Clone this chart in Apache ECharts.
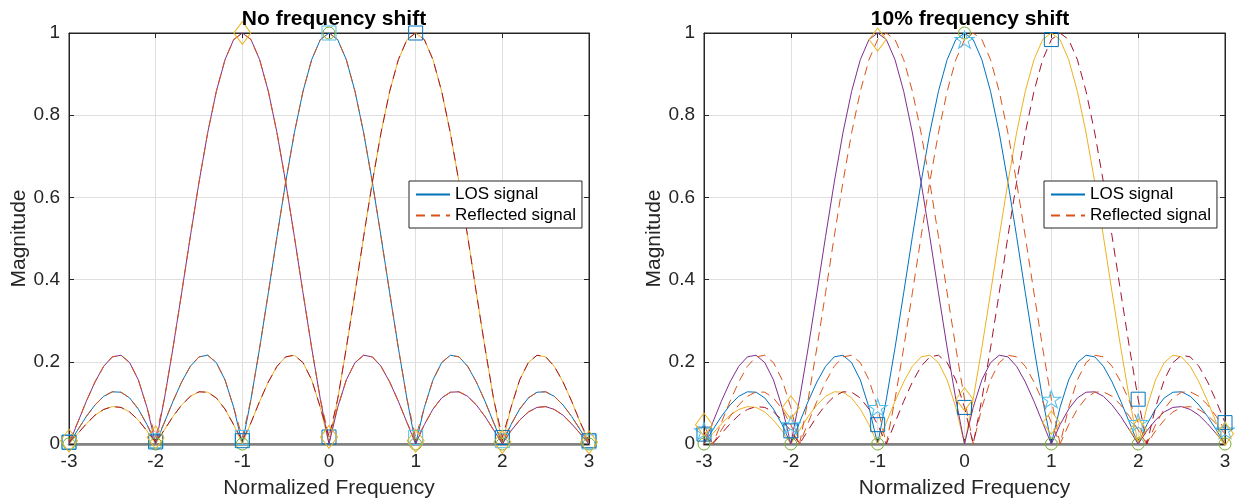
<!DOCTYPE html>
<html>
<head>
<meta charset="utf-8">
<script src="https://cdn.jsdelivr.net/npm/echarts@6/dist/echarts.min.js"></script>
<style>
html,body{margin:0;padding:0;background:#fff;}
#chart{width:1235px;height:504px;}
</style>
</head>
<body>
<div id="chart"></div>
<script>
// ---------- data ----------
const panelTitles = ['No frequency shift', '10% frequency shift'];
const xTicks = [-3, -2, -1, 0, 1, 2, 3];
const freq = [-3.0,-2.9,-2.8,-2.7,-2.6,-2.5,-2.4,-2.3,-2.2,-2.1,-2.0,-1.9,-1.8,-1.7,-1.6,-1.5,-1.4,-1.3,-1.2,-1.1,
  -1.0,-0.9,-0.8,-0.7,-0.6,-0.5,-0.4,-0.3,-0.2,-0.1,0.0,0.1,0.2,0.3,0.4,0.5,0.6,0.7,0.8,0.9,
  1.0,1.1,1.2,1.3,1.4,1.5,1.6,1.7,1.8,1.9,2.0,2.1,2.2,2.3,2.4,2.5,2.6,2.7,2.8,2.9,3.0];
const sampleFreq = [-3, -2, -1, 0, 1, 2, 3];

// LOS signals (same in both panels)
const losK0 = [0,.034,.067,.095,.116,.127,.126,.112,.085,.047,
  0,.052,.104,.151,.189,.212,.216,.198,.156,.089,
  0,.109,.234,.368,.505,.637,.757,.858,.935,.984,
  1,
  .984,.935,.858,.757,.637,.505,.368,.234,.109,0,
  .089,.156,.198,.216,.212,.189,.151,.104,.052,0,
  .047,.085,.112,.126,.127,.116,.095,.067,.034,0];
const losKm1 = [0,.052,.104,.151,.189,.212,.216,.198,.156,.089,0,.109,.234,.368,.505,.637,.757,.858,.935,.984,
  1,
  .984,.935,.858,.757,.637,.505,.368,.234,.109,0,
  .089,.156,.198,.216,.212,.189,.151,.104,.052,0,
  .047,.085,.112,.126,.127,.116,.095,.067,.034,0,
  .032,.058,.078,.089,.091,.084,.070,.049,.025,0];
const losK1 = [0,.025,.049,.070,.084,.091,.089,.078,.058,.032,
  0,.034,.067,.095,.116,.127,.126,.112,.085,.047,
  0,.052,.104,.151,.189,.212,.216,.198,.156,.089,
  0,.109,.234,.368,.505,.637,.757,.858,.935,.984,
  1,
  .984,.935,.858,.757,.637,.505,.368,.234,.109,
  0,.089,.156,.198,.216,.212,.189,.151,.104,.052,0];

// Reflected signals, left panel (no shift)
const leftReflK0 = [.005,.034,.067,.095,.116,.127,.126,.112,.085,.047,
  .008,.052,.104,.151,.189,.212,.216,.198,.156,.089,
  .016,.109,.234,.368,.505,.637,.757,.858,.935,.984,
  1,
  .984,.935,.858,.757,.637,.505,.368,.234,.109,.016,
  .089,.156,.198,.216,.212,.189,.151,.104,.052,.008,
  .047,.085,.112,.126,.127,.116,.095,.067,.034,.005];
const leftReflKm1 = [.008,.052,.104,.151,.189,.212,.216,.198,.156,.089,.016,.109,.234,.368,.505,.637,.757,.858,.935,.984,
  1,
  .984,.935,.858,.757,.637,.505,.368,.234,.109,.017,
  .089,.156,.198,.216,.212,.189,.151,.104,.052,.008,
  .047,.085,.112,.126,.127,.116,.095,.067,.034,.005,
  .032,.058,.078,.089,.091,.084,.070,.049,.025,.004];
const leftReflK1 = [.004,.025,.049,.070,.084,.091,.089,.078,.058,.032,
  .005,.034,.067,.095,.116,.127,.126,.112,.085,.047,
  .008,.052,.104,.151,.189,.212,.216,.198,.156,.089,
  .017,.109,.234,.368,.505,.637,.757,.858,.935,.984,
  1,
  .984,.935,.858,.757,.637,.505,.368,.234,.109,
  .016,.089,.156,.198,.216,.212,.189,.151,.104,.052,.008];

// Reflected signals, right panel (10% shift)
const rightReflK0 = [.032,0,.034,.067,.095,.116,.127,.126,.112,.085,.047,
  0,.052,.104,.151,.189,.212,.216,.198,.156,.089,
  0,.109,.234,.368,.505,.637,.757,.858,.935,.984,
  1,
  .984,.935,.858,.757,.637,.505,.368,.234,.109,0,
  .089,.156,.198,.216,.212,.189,.151,.104,.052,0,
  .047,.085,.112,.126,.127,.116,.095,.067,.034];
const rightReflKm1 = [.047,
  0,.052,.104,.151,.189,.212,.216,.198,.156,.089,
  0,.109,.234,.368,.505,.637,.757,.858,.935,.984,
  1,
  .984,.935,.858,.757,.637,.505,.368,.234,.109,0,
  .089,.156,.198,.216,.212,.189,.151,.104,.052,0,
  .047,.085,.112,.126,.127,.116,.095,.067,.034,0,
  .032,.058,.078,.089,.091,.084,.070,.049,.025];
const rightReflK1 = [.024,
  0,.025,.049,.070,.084,.091,.089,.078,.058,.032,
  0,.034,.067,.095,.116,.127,.126,.112,.085,.047,
  0,.052,.104,.151,.189,.212,.216,.198,.156,.089,
  0,.109,.234,.368,.505,.637,.757,.858,.935,.984,
  1,
  .984,.935,.858,.757,.637,.505,.368,.234,.109,
  0,.089,.156,.198,.216,.212,.189,.151,.104,.052];

// Sampled values at the integer frequencies (markers)
const leftLosSamples = [0, 0, 0, 1, 0, 0, 0];
const leftReflK0Samples = [.005, .008, .016, 1, .016, .008, .005];
const leftReflKm1Samples = [.008, .016, 1, .017, .008, .005, .004];
const leftReflK1Samples = [.004, .005, .008, .017, 1, .016, .008];
const rightLosSamples = [0, 0, 0, 1, 0, 0, 0];
const rightReflK0Samples = [.032, .047, .089, .984, .109, .052, .034];
const rightReflKm1Samples = [.047, .089, .984, .109, .052, .034, .025];
const rightReflK1Samples = [.024, .032, .047, .089, .984, .109, .052];

// ---------- styling ----------
const FONT = '"Liberation Sans", Arial, Helvetica, sans-serif';
const C = {blue:'#0072BD', orange:'#D95319', yellow:'#EDB120', purple:'#7E2F8E', green:'#77AC30', lblue:'#4DBEEE', dred:'#A2142F'};
const AXIS = '#262626', GRIDC = '#DFDFDF';
const STAR = 'path://M0,-1 L0.2245,-0.309 L0.951,-0.309 L0.363,0.118 L0.588,0.809 L0,0.382 L-0.588,0.809 L-0.363,0.118 L-0.951,-0.309 L-0.2245,-0.309 Z';
const DASH = [9, 6];

const grids = [
  {left: 69, top: 33, width: 520, height: 411},
  {left: 704, top: 33, width: 521, height: 411}
];

function zip(xs, ys) { return xs.map((x, i) => [x, ys[i]]); }

function lineSeries(name, g, ys, color, dashed) {
  return {
    type: 'line', name: name, xAxisIndex: g * 2, yAxisIndex: g * 2,
    data: zip(freq, ys), symbol: 'none', showSymbol: false, smooth: false,
    lineStyle: {color: color, width: 1, type: dashed ? DASH : 'solid'},
    itemStyle: {color: color}, silent: true, animation: false, z: dashed ? 3 : 2
  };
}
function markerSeries(name, g, ys, symbol, size, color) {
  return {
    type: 'scatter', name: name, xAxisIndex: g * 2, yAxisIndex: g * 2,
    data: zip(sampleFreq, ys), symbol: symbol, symbolSize: size, symbolKeepAspect: true,
    itemStyle: {color: 'rgba(0,0,0,0)', borderColor: color, borderWidth: 1, opacity: 1},
    silent: true, animation: false, z: 5
  };
}

const xAxes = [], yAxes = [];
grids.forEach((gr, g) => {
  xAxes.push({
    gridIndex: g, type: 'value', min: -3, max: 3, interval: 1, position: 'bottom',
    name: 'Normalized Frequency', nameLocation: 'middle', nameGap: 34,
    nameTextStyle: {fontSize: 21, color: AXIS, fontFamily: FONT},
    axisLine: {show: true, onZero: false, lineStyle: {color: '#808080', width: 2.5}},
    axisTick: {show: true, inside: true, length: 5, lineStyle: {color: AXIS}},
    axisLabel: {fontSize: 19, color: AXIS, margin: 8, fontFamily: FONT},
    splitLine: {show: true, lineStyle: {color: GRIDC, width: 1}}
  });
  xAxes.push({
    gridIndex: g, type: 'value', min: -3, max: 3, interval: 1, position: 'top',
    axisLine: {show: true, onZero: false, lineStyle: {color: AXIS, width: 1}},
    axisTick: {show: true, inside: true, length: 5, lineStyle: {color: AXIS}},
    axisLabel: {show: false}, splitLine: {show: false}
  });
  yAxes.push({
    gridIndex: g, type: 'value', min: 0, max: 1, interval: 0.2, position: 'left',
    name: 'Magnitude', nameLocation: 'middle', nameGap: 38, nameRotate: 90,
    nameTextStyle: {fontSize: 21, color: AXIS, fontFamily: FONT},
    axisLine: {show: true, onZero: false, lineStyle: {color: AXIS, width: 1}},
    axisTick: {show: true, inside: true, length: 5, lineStyle: {color: AXIS}},
    axisLabel: {fontSize: 19, color: AXIS, margin: 9, fontFamily: FONT},
    splitLine: {show: true, lineStyle: {color: GRIDC, width: 1}}
  });
  yAxes.push({
    gridIndex: g, type: 'value', min: 0, max: 1, interval: 0.2, position: 'right',
    axisLine: {show: true, onZero: false, lineStyle: {color: AXIS, width: 1}},
    axisTick: {show: true, inside: true, length: 5, lineStyle: {color: AXIS}},
    axisLabel: {show: false}, splitLine: {show: false}
  });
});

const series = [
  // left panel
  lineSeries('LOS signal', 0, losK0, C.blue, false),
  lineSeries('Reflected signal', 0, leftReflK0, C.orange, true),
  lineSeries('LOS k=1 L', 0, losK1, C.yellow, false),
  lineSeries('LOS k=-1 L', 0, losKm1, C.purple, false),
  lineSeries('Refl k=-1 L', 0, leftReflKm1, C.orange, true),
  lineSeries('Refl k=1 L', 0, leftReflK1, C.dred, true),
  markerSeries('s1', 0, leftLosSamples, 'circle', 12, C.green),
  markerSeries('s2', 0, leftReflK0Samples, 'rect', 14, C.lblue),
  markerSeries('s3', 0, leftReflK1Samples, 'rect', 14, C.blue),
  markerSeries('s4', 0, leftReflKm1Samples, 'diamond', [17, 23], C.yellow),
  // right panel
  lineSeries('LOS signal', 1, losK0, C.blue, false),
  lineSeries('Reflected signal', 1, rightReflK0, C.orange, true),
  lineSeries('LOS k=1 R', 1, losK1, C.yellow, false),
  lineSeries('LOS k=-1 R', 1, losKm1, C.purple, false),
  lineSeries('Refl k=-1 R', 1, rightReflKm1, C.orange, true),
  lineSeries('Refl k=1 R', 1, rightReflK1, C.dred, true),
  markerSeries('r1', 1, rightLosSamples, 'circle', 12, C.green),
  markerSeries('r2', 1, rightReflK0Samples, STAR, [19, 18], C.lblue),
  markerSeries('r3', 1, rightReflK1Samples, 'rect', 14, C.blue),
  markerSeries('r4', 1, rightReflKm1Samples, 'diamond', [17, 23], C.yellow)
];

function legendAt(left) {
  return {
    show: true, orient: 'vertical', left: left, top: 181,
    data: ['LOS signal', 'Reflected signal'],
    itemWidth: 34, itemHeight: 14, itemGap: 4,
    padding: [5, 6, 4, 6],
    backgroundColor: '#fff', borderColor: AXIS, borderWidth: 1, borderRadius: 0,
    itemStyle: {color: 'rgba(0,0,0,0)', borderColor: 'rgba(0,0,0,0)', borderWidth: 0, opacity: 0},
    textStyle: {fontSize: 17, color: '#000', fontFamily: FONT, lineHeight: 17},
    selectedMode: false, z: 10
  };
}

const option = {
  animation: false,
  backgroundColor: '#fff',
  title: [
    {text: panelTitles[0], left: 329, top: 4, textAlign: 'center',
     textStyle: {fontSize: 21, fontWeight: 'bold', color: '#000', fontFamily: FONT}},
    {text: panelTitles[1], left: 965, top: 4, textAlign: 'center',
     textStyle: {fontSize: 21, fontWeight: 'bold', color: '#000', fontFamily: FONT}}
  ],
  legend: [legendAt(409), legendAt(1044)],
  grid: grids.map(g => Object.assign({show: true, borderColor: AXIS, borderWidth: 1, backgroundColor: '#fff'}, g)),
  xAxis: xAxes,
  yAxis: yAxes,
  series: series
};

const chart = echarts.init(document.getElementById('chart'), null, {renderer: 'canvas'});
chart.setOption(option);
</script>
</body>
</html>
